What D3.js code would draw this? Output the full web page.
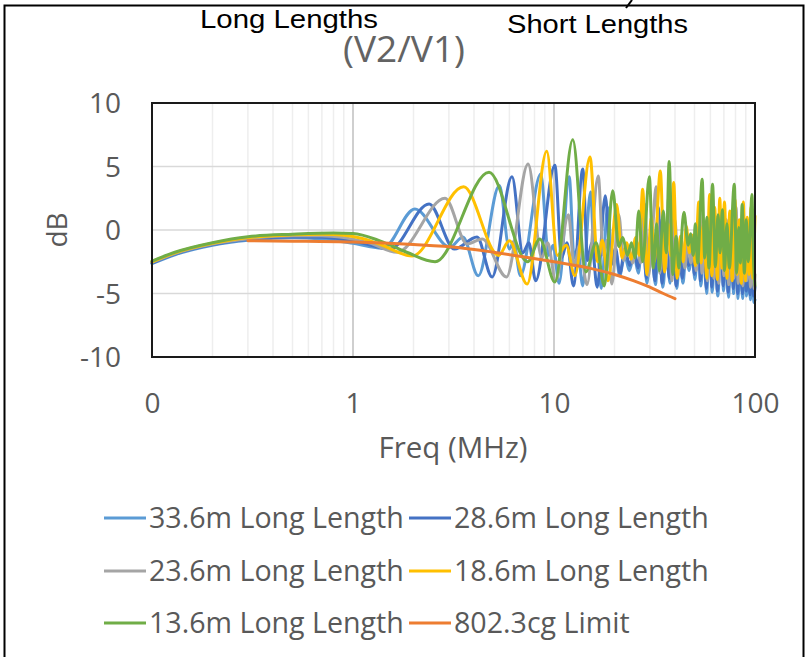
<!DOCTYPE html>
<html>
<head>
<meta charset="utf-8">
<script src="https://cdn.jsdelivr.net/npm/d3@7"></script>
<style>
  html, body { margin: 0; padding: 0; background: #fff; }
  svg { display: block; }
</style>
</head>
<body>
<svg id="chart" width="807" height="657"></svg>
<script>
// ---- data: [frequency MHz, dB] ----
const s336 = [[0.1,-2.65],[0.13,-1.95],[0.2,-1.2],[0.3,-0.8],[0.5,-0.62],[0.7,-0.7],[0.85,-0.88],[1.0,-1.05],[1.2,-1.3],[1.41,-1.45],[2.03,1.65],[3.04,-1.35],[3.52,-0.55],[4.2,-3.6],[5.35,3.5],[6.0,-1.5],[6.3,-0.9],[6.8,-3.6],[8.6,4.4],[9.4,-2.0],[9.9,-1.2],[10.6,-4.2],[11.9,4.2],[12.6,-2.2],[13.1,-1.4],[13.9,-4.4],[15.2,3.0],[15.9,-2.4],[16.4,-1.6],[17.2,-4.6],[18.5,1.8],[19.5,-2.6],[20.3,-1.8],[21.2,-3.6],[22.5,-2.0],[23.7,-3.2],[25,-2.0],[26.3,-3.4],[27.6,-0.2],[29,-4.2],[30.4,-1.0],[32,-4.3],[33.3,0.8],[34.8,-4.5],[36.3,-1.5],[37.8,-4.2],[39.2,0.0],[40.8,-4.6],[42.3,-2.0],[43.8,-4.2],[45.3,-2.0],[47,-3.2],[48.7,-2.0],[50.3,-3.9],[52.3,-0.2],[53.8,-4.4],[55.8,-1.0],[57.5,-5.0],[59.3,0.0],[61.3,-4.9],[63.3,-0.8],[65.3,-5.2],[67.8,-0.2],[69.8,-4.8],[71.8,-1.2],[73.8,-5.3],[76.3,-0.5],[78.3,-5.0],[80.3,-0.2],[82.3,-5.4],[84.3,-1.5],[86.8,-5.4],[88.8,-1.2],[90.8,-5.2],[92.8,-1.8],[94.8,-5.5],[96.8,-1.2],[98.8,-5.7],[100,-5.5]];

const s286 = [[0.1,-2.6],[0.13,-1.9],[0.2,-1.15],[0.3,-0.75],[0.5,-0.55],[0.7,-0.58],[0.9,-0.75],[1.1,-1.0],[1.3,-1.3],[1.53,-1.5],[2.39,2.05],[3.2,-1.5],[4.14,-0.55],[4.92,-3.7],[6.18,4.2],[7.0,-1.8],[7.5,-1.0],[8.1,-4.0],[10.1,5.1],[10.9,-2.2],[11.6,-1.0],[12.5,-4.4],[13.9,4.8],[14.7,-2.4],[15.4,-1.0],[16.4,-4.5],[18.0,2.7],[19.2,-2.8],[20.2,-1.4],[21.3,-3.4],[22.5,-1.5],[23.8,-2.8],[25,-1.6],[26.2,-3.0],[27.5,0.8],[28.8,-3.8],[30.2,-0.5],[31.8,-4.0],[33,1.8],[34.5,-4.2],[36,-1.0],[37.5,-3.8],[39,1.0],[40.5,-4.4],[42,-1.5],[43.5,-3.8],[45,-1.5],[46.8,-2.8],[48.5,-1.5],[50,-3.5],[52,0.5],[53.5,-4.0],[55.5,-0.5],[57.2,-4.6],[59,0.8],[61,-4.5],[63,-0.2],[65,-4.8],[67.5,0.5],[69.5,-4.4],[71.5,-0.5],[73.5,-4.9],[76,0.2],[78,-4.6],[80,0.5],[82,-5.0],[84,-0.8],[86.5,-5.0],[88.5,-0.5],[90.5,-4.8],[92.5,-1.0],[94.5,-5.1],[96.5,-0.5],[98.5,-5.2],[100,-4.5]];

const s236 = [[0.1,-2.55],[0.13,-1.85],[0.2,-1.1],[0.3,-0.68],[0.5,-0.45],[0.7,-0.45],[0.9,-0.6],[1.2,-1.0],[1.66,-1.75],[2.87,2.5],[3.7,-1.1],[4.4,-0.7],[5.8,-3.7],[7.43,5.2],[8.7,-2.2],[9.3,-1.0],[10.2,-4.0],[11.8,1.2],[12.6,-2.8],[13.4,-1.2],[14.6,-4.3],[16.6,4.25],[17.6,-2.0],[18.3,-0.8],[19.4,-4.25],[21,1.2],[22.2,-2.4],[23.4,-1.3],[24.6,-2.6],[25.8,-1.0],[27,-2.6],[28.3,2.0],[29.5,-3.6],[31,0.2],[32.2,3.4],[33.6,-3.4],[34.8,-0.5],[36,-3.0],[37.2,2.6],[38.6,-4.0],[40,0.8],[41.5,-3.6],[43,-0.8],[44.8,-3.0],[46.2,-1.0],[48,-2.6],[49.5,-1.2],[51,-3.2],[53,1.8],[54.5,-3.4],[56.5,0.5],[58,-4.0],[60,2.0],[62.5,-3.8],[64.5,1.0],[66,-4.2],[68,1.5],[70,-3.6],[72,0.8],[74,-4.3],[76.5,1.2],[78.5,-3.8],[80.5,1.8],[82.5,-4.2],[84.5,0.5],[87,-4.4],[89,0.8],[91,-4.0],[93,0.2],[95,-4.5],[97,1.0],[99,-4.6],[100,-3.5]];

const s186 = [[0.1,-2.5],[0.13,-1.8],[0.2,-1.05],[0.3,-0.6],[0.5,-0.38],[0.7,-0.33],[0.9,-0.42],[1.1,-0.65],[1.4,-1.2],[1.97,-2.05],[3.55,3.4],[5.3,-2.0],[6.0,-0.85],[7.35,-4.25],[9.2,6.2],[10.4,-2.0],[11.5,-1.2],[12.7,-3.6],[15.1,5.75],[16.5,-2.5],[17.4,-0.8],[18.6,-4.0],[20.5,2.0],[21.8,-2.2],[23,-1.0],[24.2,-2.3],[25.5,-0.6],[26.5,-2.0],[27.6,3.2],[29,-3.5],[30.5,1.0],[31.5,-2.5],[33.8,4.65],[35.5,-3.3],[37,0.5],[38,-2.0],[39.4,3.75],[41,-3.8],[42.5,-0.5],[44,-2.5],[45.5,0.3],[47.2,-1.8],[49,-0.4],[50.5,-2.8],[52.5,2.2],[54,-2.6],[55.5,0.5],[57.5,-3.8],[59.5,2.8],[61,-3.6],[63,1.8],[65,-3.9],[66.8,2.5],[68.5,-3.0],[70.5,2.2],[72.5,-3.8],[75,1.5],[77,-4.0],[79.5,2.4],[81.5,-3.5],[83.5,0.8],[85.5,-4.2],[87.5,2.2],[89.5,-4.0],[91.5,1.0],[93.5,-3.5],[95.5,1.8],[97.5,-3.8],[99.2,-1.0],[100,1.1]];

const s136 = [[0.1,-2.45],[0.13,-1.75],[0.2,-1.0],[0.3,-0.53],[0.5,-0.33],[0.8,-0.23],[1.0,-0.27],[1.36,-0.85],[1.85,-1.75],[2.56,-2.5],[4.75,4.55],[7.4,-2.5],[8.5,-0.7],[10.1,-4.1],[12.4,7.1],[14.4,-3.3],[16.2,-1.0],[17.8,-4.4],[19.6,3.1],[21,-1.3],[22,-0.6],[23.2,-2.0],[24.3,-1.0],[25.3,-2.2],[26.4,1.5],[27.6,-2.5],[29.8,4.2],[31.2,-3.0],[32.4,0.5],[33.4,-3.2],[35,1.5],[36.2,-1.8],[37.4,5.4],[39,-3.5],[40.5,-0.5],[41.8,-3.0],[44.3,1.4],[46.5,-1.2],[47.8,-0.3],[49.3,-2.0],[50.5,0.5],[51.8,-2.6],[54.6,4.0],[56.2,-2.2],[57.6,1.0],[59.0,-3.0],[61.5,3.6],[63.5,-2.9],[65.5,1.2],[67.0,-1.8],[68.8,1.6],[70.5,-3.2],[72.5,0.5],[74.5,-3.0],[78.9,3.6],[81.0,-3.4],[83.0,0.2],[84.5,-2.6],[86.3,2.0],[88.5,-3.4],[90.5,0.8],[92.5,-2.5],[94.5,-0.3],[96.5,2.8],[98.5,-2.8],[100,-4.4]];

const limit8023cg = [[0.3,-0.85],[0.5,-0.88],[1,-0.95],[2,-1.15],[3.4,-1.4],[5,-1.75],[7,-2.1],[10,-2.5],[15,-3.0],[20,-3.5],[25,-4.0],[30,-4.5],[35,-5.0],[40,-5.4]];

const seriesNames = ["33.6m Long Length","28.6m Long Length","23.6m Long Length","18.6m Long Length","13.6m Long Length","802.3cg Limit"];
const seriesColors = ["#5B9BD5","#4472C4","#A5A5A5","#FFC000","#70AD47","#ED7D31"];
const seriesData = [s336, s286, s236, s186, s136, limit8023cg];

const xTickValues = [0.1, 1, 10, 100];
const xTickLabels = ["0", "1", "10", "100"];
const yTickValues = [-10, -5, 0, 5, 10];

// ---- layout ----
const svg = d3.select("#chart");
const plot = { left: 152, right: 755, top: 103, bottom: 357 };
const font = "'Open Sans', 'Noto Sans', sans-serif";
const arial = "'Liberation Sans', Arial, sans-serif";
const textGray = "#595959";

const x = d3.scaleLog().domain([0.1, 100]).range([plot.left, plot.right]);
const y = d3.scaleLinear().domain([-10, 10]).range([plot.bottom, plot.top]);

// chart frame
svg.append("rect")
  .attr("x", 4.5).attr("y", 5.5).attr("width", 799).attr("height", 670)
  .attr("fill", "#fff").attr("stroke", "#000").attr("stroke-width", 2);

// minor vertical grid (2..9 within each decade)
const minor = [];
for (let d = 0.1; d < 100; d *= 10) for (let k = 2; k <= 9; k++) minor.push(d * k);
svg.append("g").selectAll("line").data(minor).join("line")
  .attr("x1", d => x(d)).attr("x2", d => x(d))
  .attr("y1", plot.top).attr("y2", plot.bottom)
  .attr("stroke", "#eeeeee").attr("stroke-width", 1.5);

// horizontal grid
svg.append("g").selectAll("line").data(yTickValues).join("line")
  .attr("x1", plot.left).attr("x2", plot.right)
  .attr("y1", d => y(d)).attr("y2", d => y(d))
  .attr("stroke", "#d9d9d9").attr("stroke-width", 1.5);

// major vertical grid
svg.append("g").selectAll("line").data([1, 10]).join("line")
  .attr("x1", d => x(d)).attr("x2", d => x(d))
  .attr("y1", plot.top).attr("y2", plot.bottom)
  .attr("stroke", "#bfbfbf").attr("stroke-width", 1.5);

// series
const line = d3.line()
  .x(d => x(d[0])).y(d => y(d[1]))
  .curve(d3.curveMonotoneX);

svg.append("g").selectAll("path").data(seriesData).join("path")
  .attr("d", line)
  .attr("fill", "none")
  .attr("stroke", (d, i) => seriesColors[i])
  .attr("stroke-width", 3)
  .attr("stroke-linejoin", "round")
  .attr("stroke-linecap", "round");

// plot border
svg.append("rect")
  .attr("x", plot.left).attr("y", plot.top)
  .attr("width", plot.right - plot.left).attr("height", plot.bottom - plot.top)
  .attr("fill", "none").attr("stroke", "#1a1a1a").attr("stroke-width", 2);

// axes
const xAxis = d3.axisBottom(x).tickValues(xTickValues)
  .tickFormat((d, i) => xTickLabels[i]).tickSize(0).tickPadding(0);
const gx = svg.append("g").attr("transform", `translate(0,${plot.bottom + 56})`).call(xAxis);
gx.select(".domain").remove();
gx.selectAll("text").attr("font-family", font).attr("font-size", 28)
  .attr("fill", textGray).attr("dy", 0);

const yAxis = d3.axisLeft(y).tickValues(yTickValues)
  .tickFormat(d => String(d)).tickSize(0).tickPadding(0);
const gy = svg.append("g").attr("transform", `translate(${plot.left - 31},0)`).call(yAxis);
gy.select(".domain").remove();
gy.selectAll("text").attr("font-family", font).attr("font-size", 28)
  .attr("fill", textGray).attr("dy", "0.35em");

// axis titles
svg.append("text").attr("x", 453).attr("y", 458)
  .attr("text-anchor", "middle").attr("font-family", font).attr("font-size", 29.5)
  .attr("fill", textGray).text("Freq (MHz)");
svg.append("text").attr("transform", "translate(67,230) rotate(-90)")
  .attr("text-anchor", "middle").attr("font-family", font).attr("font-size", 28)
  .attr("fill", textGray).text("dB");

// chart title and annotations
svg.append("text").attr("x", 404).attr("y", 62)
  .attr("text-anchor", "middle").attr("font-family", font).attr("font-size", 37)
  .attr("textLength", 122).attr("lengthAdjust", "spacingAndGlyphs")
  .attr("fill", "#636363").text("(V2/V1)");
svg.append("text").attr("x", 200).attr("y", 28)
  .attr("font-family", arial).attr("font-size", 26)
  .attr("textLength", 178).attr("lengthAdjust", "spacingAndGlyphs")
  .attr("fill", "#000").text("Long Lengths");
svg.append("text").attr("x", 507).attr("y", 33)
  .attr("font-family", arial).attr("font-size", 26)
  .attr("textLength", 181).attr("lengthAdjust", "spacingAndGlyphs")
  .attr("fill", "#000").text("Short Lengths");
// tail of a glyph from the line above the frame
svg.append("path").attr("d", "M632,0 L626,8")
  .attr("stroke", "#000").attr("stroke-width", 2).attr("fill", "none");

// legend
const legendRows = [518, 571, 623];
const legendCols = [104, 409];
const lg = svg.append("g").selectAll("g").data(seriesNames).join("g")
  .attr("transform", (d, i) => `translate(${legendCols[i % 2]},${legendRows[Math.floor(i / 2)]})`);
lg.append("line").attr("x1", 0).attr("x2", 42).attr("y1", 0).attr("y2", 0)
  .attr("stroke", (d, i) => seriesColors[i]).attr("stroke-width", 3);
lg.append("text").attr("x", 45).attr("y", 0).attr("dy", "0.35em")
  .attr("font-family", font).attr("font-size", 28.6).attr("fill", textGray)
  .text(d => d);
</script>
</body>
</html>
